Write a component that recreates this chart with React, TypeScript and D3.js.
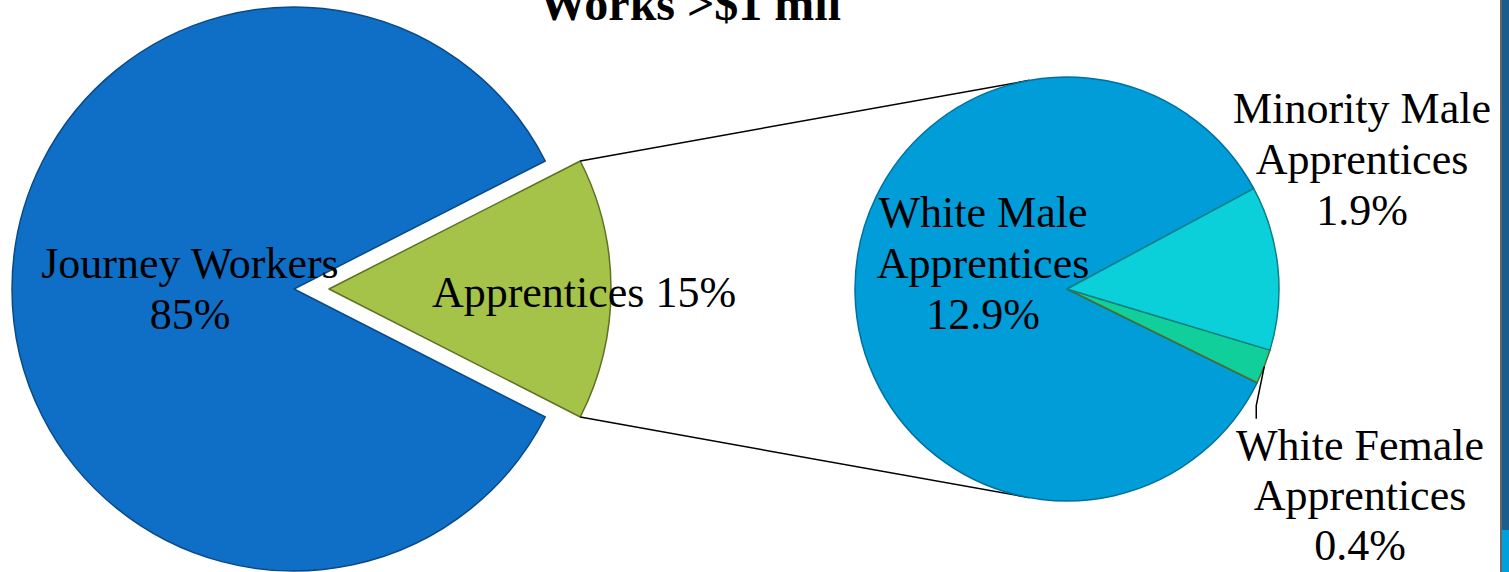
import * as d3 from 'd3'
import { useEffect } from 'react'

// primary pie
const mainLabels = ['Apprentices', 'Journey Workers']
const mainValues = [15, 85]
const mainText = [['Apprentices 15%'], ['Journey Workers', '85%']]

// secondary pie (split of the apprentices slice)
const subLabels = ['Minority Male Apprentices', 'White Female Apprentices', 'White Male Apprentices']
const subValues = [1.9, 0.4, 12.9]
const subText = [
  ['Minority Male', 'Apprentices', '1.9%'],
  ['White Female', 'Apprentices', '0.4%'],
  ['White Male', 'Apprentices', '12.9%'],
]

const titleText = 'Works >$1 mil'

const W = 1509
const H = 572
const FONT = "'Liberation Serif', 'Times New Roman', serif"

const MAIN = { cx: 294, cy: 289, r: 282, explode: 35 }
const SUB = { cx: 1067, cy: 289, r: 212 }

const mainFill = ['#A5C249', '#0F6FC6']
const mainStroke = ['#5d7222', '#0a4a86']
const subFill = ['#0BD0D9', '#10CF9B', '#009DD9']
const subStroke = ['#0a8088', '#4f6b26', '#00709c']

// label anchor (center x, first baseline) for each slice
const mainLabelPos = [
  { x: 584, y: 307 },
  { x: 190, y: 278 },
]
const subLabelPos = [
  { x: 1362, y: 123 },
  { x: 1360, y: 460 },
  { x: 983, y: 227 },
]
const LINE_H = 51

// tangent point from external point p to circle (c, r); side = -1 upper, 1 lower
const tangent = (px: number, py: number, cx: number, cy: number, r: number, side: number) => {
  const dx = cx - px
  const dy = cy - py
  const d = Math.sqrt(dx * dx + dy * dy)
  const base = Math.atan2(dy, dx)
  const half = Math.asin(r / d)
  const a = base + side * half
  const len = Math.sqrt(d * d - r * r)
  return [px + len * Math.cos(a), py + len * Math.sin(a)]
}

export default function App() {
  useEffect(() => {
    document.body.style.margin = '0'
  }, [])

  const total = d3.sum(mainValues)
  const mainSpan = (mainValues[0] / total) * Math.PI * 2
  const mainStart = Math.PI / 2 - mainSpan / 2
  const mainArcs = d3.pie<number>().sort(null).startAngle(mainStart).endAngle(mainStart + Math.PI * 2)(mainValues)

  const subTotal = d3.sum(subValues)
  const groupSpan = ((subValues[0] + subValues[1]) / subTotal) * Math.PI * 2
  const subCenter = (89 * Math.PI) / 180
  const subStart = subCenter - groupSpan / 2
  const subArcs = d3.pie<number>().sort(null).startAngle(subStart).endAngle(subStart + Math.PI * 2)(subValues)

  const mainArc = d3.arc<d3.PieArcDatum<number>>().innerRadius(0).outerRadius(MAIN.r)
  const subArc = d3.arc<d3.PieArcDatum<number>>().innerRadius(0).outerRadius(SUB.r)

  // exploded apprentices slice
  const app = mainArcs[0]
  const mid = (app.startAngle + app.endAngle) / 2
  const ox = MAIN.cx + MAIN.explode * Math.sin(mid)
  const oy = MAIN.cy - MAIN.explode * Math.cos(mid)
  const p1 = [ox + MAIN.r * Math.sin(app.startAngle), oy - MAIN.r * Math.cos(app.startAngle)]
  const p2 = [ox + MAIN.r * Math.sin(app.endAngle), oy - MAIN.r * Math.cos(app.endAngle)]
  const t1 = tangent(p1[0], p1[1], SUB.cx, SUB.cy, SUB.r, -1)
  const t2 = tangent(p2[0], p2[1], SUB.cx, SUB.cy, SUB.r, 1)

  // leader line for white female slice
  const wf = subArcs[1]
  const wfMid = (wf.startAngle + wf.endAngle) / 2
  const lx = SUB.cx + SUB.r * Math.sin(wfMid)
  const ly = SUB.cy - SUB.r * Math.cos(wfMid)
  const leader = d3.line()([
    [lx, ly],
    [lx - 8, ly + 39],
    [lx - 8, ly + 52],
  ])

  const drawOrder = [2, 1, 0]

  return (
    <svg width={W} height={H} style={{ display: 'block', background: '#fff' }} fontFamily={FONT}>
      {/* primary pie */}
      <path
        d={mainArc(mainArcs[1]) || ''}
        transform={`translate(${MAIN.cx},${MAIN.cy})`}
        fill={mainFill[1]}
        stroke={mainStroke[1]}
        strokeWidth={1.5}
        strokeLinejoin="round"
      />
      <path
        d={mainArc(app) || ''}
        transform={`translate(${ox},${oy})`}
        fill={mainFill[0]}
        stroke={mainStroke[0]}
        strokeWidth={1.5}
        strokeLinejoin="round"
      />

      {/* connector lines */}
      <line x1={p1[0]} y1={p1[1]} x2={t1[0]} y2={t1[1]} stroke="#000" strokeWidth={1.5} />
      <line x1={p2[0]} y1={p2[1]} x2={t2[0]} y2={t2[1]} stroke="#000" strokeWidth={1.5} />

      {/* secondary pie */}
      <g transform={`translate(${SUB.cx},${SUB.cy})`}>
        {drawOrder.map((i) => (
          <path
            key={subLabels[i]}
            d={subArc(subArcs[i]) || ''}
            fill={subFill[i]}
            stroke={subStroke[i]}
            strokeWidth={1.5}
            strokeLinejoin="round"
          />
        ))}
      </g>
      <path d={leader || ''} fill="none" stroke="#000" strokeWidth={1.5} />

      {/* labels */}
      {mainLabels.map((name, i) => (
        <text key={name} x={mainLabelPos[i].x} y={mainLabelPos[i].y} fontSize={44} textAnchor="middle" fill="#000">
          {mainText[i].map((t, j) => (
            <tspan key={j} x={mainLabelPos[i].x} y={mainLabelPos[i].y + j * LINE_H}>
              {t}
            </tspan>
          ))}
        </text>
      ))}
      {subLabels.map((name, i) => (
        <text key={name} x={subLabelPos[i].x} y={subLabelPos[i].y} fontSize={44} textAnchor="middle" fill="#000">
          {subText[i].map((t, j) => (
            <tspan key={j} x={subLabelPos[i].x} y={subLabelPos[i].y + j * (i === 1 ? 50 : LINE_H)}>
              {t}
            </tspan>
          ))}
        </text>
      ))}

      {/* title (top cut off in frame, as in the slide) */}
      <text x={690} y={20} fontSize={48} fontWeight="bold" textAnchor="middle" fill="#000">
        {titleText}
      </text>

      {/* slide edge */}
      <rect x={1500} y={0} width={2} height={H} fill="#666" />
      <rect x={1502} y={0} width={7} height={530} fill="#1b5d8c" />
      <rect x={1502} y={530} width={7} height={H - 530} fill="#00A0DC" />
    </svg>
  )
}
